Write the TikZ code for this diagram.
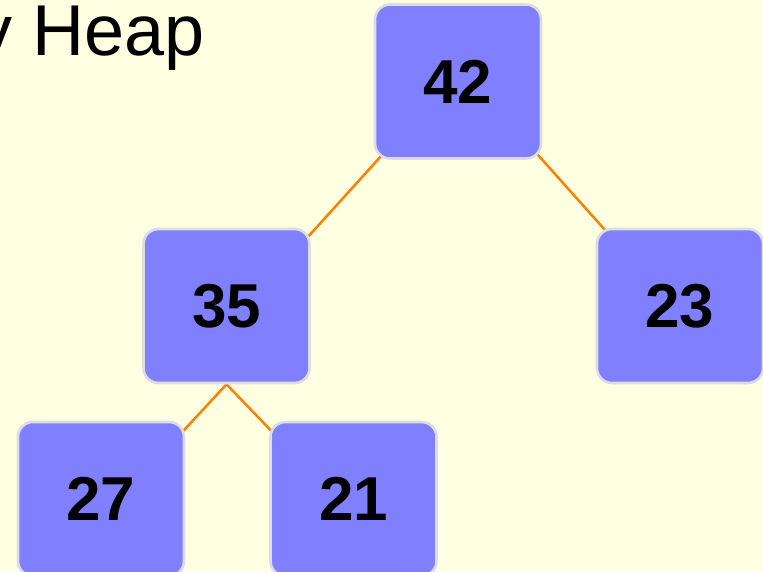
\documentclass[tikz,border=0pt]{standalone}
\usepackage{fontspec}
\setmainfont{Liberation Sans}
\usetikzlibrary{backgrounds}
\definecolor{bgyellow}{HTML}{FFFFE2}
\definecolor{boxblue}{HTML}{8080FF}
\definecolor{boxedge}{HTML}{DCDCE4}
\definecolor{edgeorange}{HTML}{FF8000}
\tikzset{
  heapbox/.style={draw=boxedge, line width=2.6pt, fill=boxblue, rounded corners=15pt,
    minimum width=166pt, minimum height=154pt, inner sep=0pt,
    font=\fontsize{62}{62}\selectfont\bfseries, text=black},
  heapedge/.style={draw=edgeorange, line width=2.5pt}
}
\begin{document}
\begin{tikzpicture}[x=1pt,y=-1pt]
\useasboundingbox (0,0) rectangle (763,571);
\node[anchor=base west, inner sep=0pt, font=\fontsize{72}{72}\selectfont] (title) at (-24,55) {y Heap};
\node[heapbox] (n42) at (458,81.5) {42};
\node[heapbox] (n35) at (226.5,306) {35};
\node[heapbox] (n23) at (680,306) {23};
\node[heapbox] (n27) at (101,499) {27};
\node[heapbox] (n21) at (353.5,499) {21};
\begin{pgfonlayer}{background}
\fill[bgyellow] (0,0) rectangle (763,571);
\draw[heapedge, shorten <=-10pt, shorten >=-10pt] ([xshift=4pt]n42.south west) -- ([yshift=-6pt]n35.north east);
\draw[heapedge, shorten <=-10pt, shorten >=-6pt] (n42.south east) -- ([xshift=9pt,yshift=-2pt]n23.north west);
\draw[heapedge, shorten >=-10pt] (n35.south) -- ([yshift=-8pt]n27.north east);
\draw[heapedge, shorten >=-10pt] (n35.south) -- ([yshift=-8pt]n21.north west);
\end{pgfonlayer}
\end{tikzpicture}
\end{document}
